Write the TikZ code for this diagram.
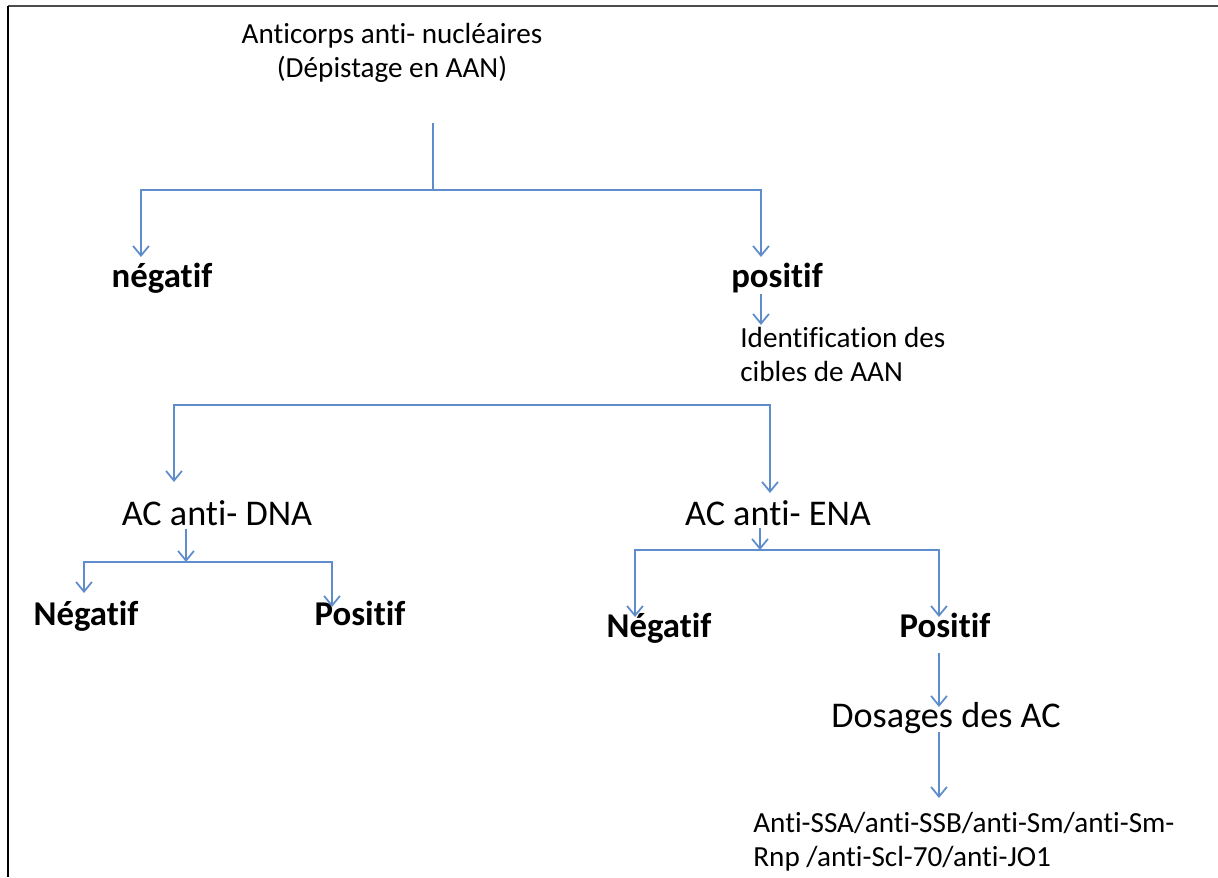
\documentclass[tikz,border=0pt]{standalone}
\usepackage{fontspec}
\setmainfont{Carlito}[Ligatures=NoCommon]
\usetikzlibrary{arrows.meta,calc}
\definecolor{linkblue}{HTML}{5F8DCB}
\tikzset{
chart/.style={x=0.02cm,y=-0.02cm},
link/.style={draw=linkblue,line width=1pt},
flow/.style={link,-{Straight Barb[length=5.5pt,width=9pt]}},
txt/.style={font=\fontsize{16.6}{19.3}\selectfont,inner sep=0pt},
bigtxt/.style={font=\fontsize{20.6}{24}\selectfont,inner sep=0pt},
boldtxt/.style={font=\bfseries\fontsize{19.8}{24}\selectfont,inner sep=0pt},
}

\begin{document}
\begin{tikzpicture}[chart]

    \useasboundingbox (0,0) rectangle (1218,877);
    \draw[line width=1.5pt,black!70] (8,6) -- (1218,6);
    \draw[line width=1.5pt,black] (8,6) -- (8,877);

    \node[txt,align=center,anchor=base] (aan) at (392,77)
        {Anticorps anti- nucléaires\\(Dépistage en AAN)};
    \node[boldtxt,anchor=base] (neg) at (162,287) {négatif};
    \node[boldtxt,anchor=base] (pos) at (777,287) {positif};
    \node[txt,align=left,anchor=base west] (ident) at (740,381)
        {Identification des\\cibles de AAN};
    \node[bigtxt,anchor=base] (dna) at (217,525) {AC anti- DNA};
    \node[bigtxt,anchor=base] (ena) at (778,525) {AC anti- ENA};
    \node[boldtxt,anchor=base] (dnaneg) at (86,625) {Négatif};
    \node[boldtxt,anchor=base] (dnapos) at (360,625) {Positif};
    \node[boldtxt,anchor=base] (enaneg) at (659,637) {Négatif};
    \node[boldtxt,anchor=base] (enapos) at (945,637) {Positif};
    \node[bigtxt,anchor=base] (dosage) at (946,727) {Dosages des AC};
    \node[txt,align=left,anchor=base west] (cibles) at (753,866)
        {Anti-SSA/anti-SSB/anti-Sm/anti-Sm-\\Rnp /anti-Scl-70/anti-JO1};

    \coordinate (stem) at (433,123);
    \coordinate (split1) at (433,190);
    \coordinate (split2) at (472,405);
    \coordinate (split3) at (186,562);
    \coordinate (split4) at (760,550);

    % depistage
    \draw[link] (stem) -- (split1);
    \draw[flow] (split1) -| ($(neg.base)+(-21,-30)$);
    \draw[flow] (split1) -| ($(pos.base)+(-16,-30)$);
    \draw[flow] ($(pos.base)+(-16,7)$) -- ($(ident.base west)+(21,-56)$);

    % identification
    \draw[flow] (split2) -| ($(dna.base)+(-43,-43)$);
    \draw[flow] (split2) -| ($(ena.base)+(-8,-32)$);

    % anti-DNA
    \draw[flow] ($(dna.base)+(-31,4)$) -- (split3);
    \draw[flow] (split3) -| ($(dnaneg.base)+(-2,-32)$);
    \draw[flow] (split3) -| ($(dnapos.base)+(-28,-18)$);

    % anti-ENA
    \draw[flow] ($(ena.base)+(-18,3)$) -- (split4);
    \draw[flow] (split4) -| ($(enaneg.base)+(-24,-20)$);
    \draw[flow] (split4) -| ($(enapos.base)+(-6,-20)$);
    \draw[flow] ($(enapos.base)+(-6,16)$) -- ($(dosage.base)+(-7,-20)$);
    \draw[flow] ($(dosage.base)+(-7,5)$) -- ($(cibles.base west)+(186,-68)$);

\end{tikzpicture}
\end{document}
